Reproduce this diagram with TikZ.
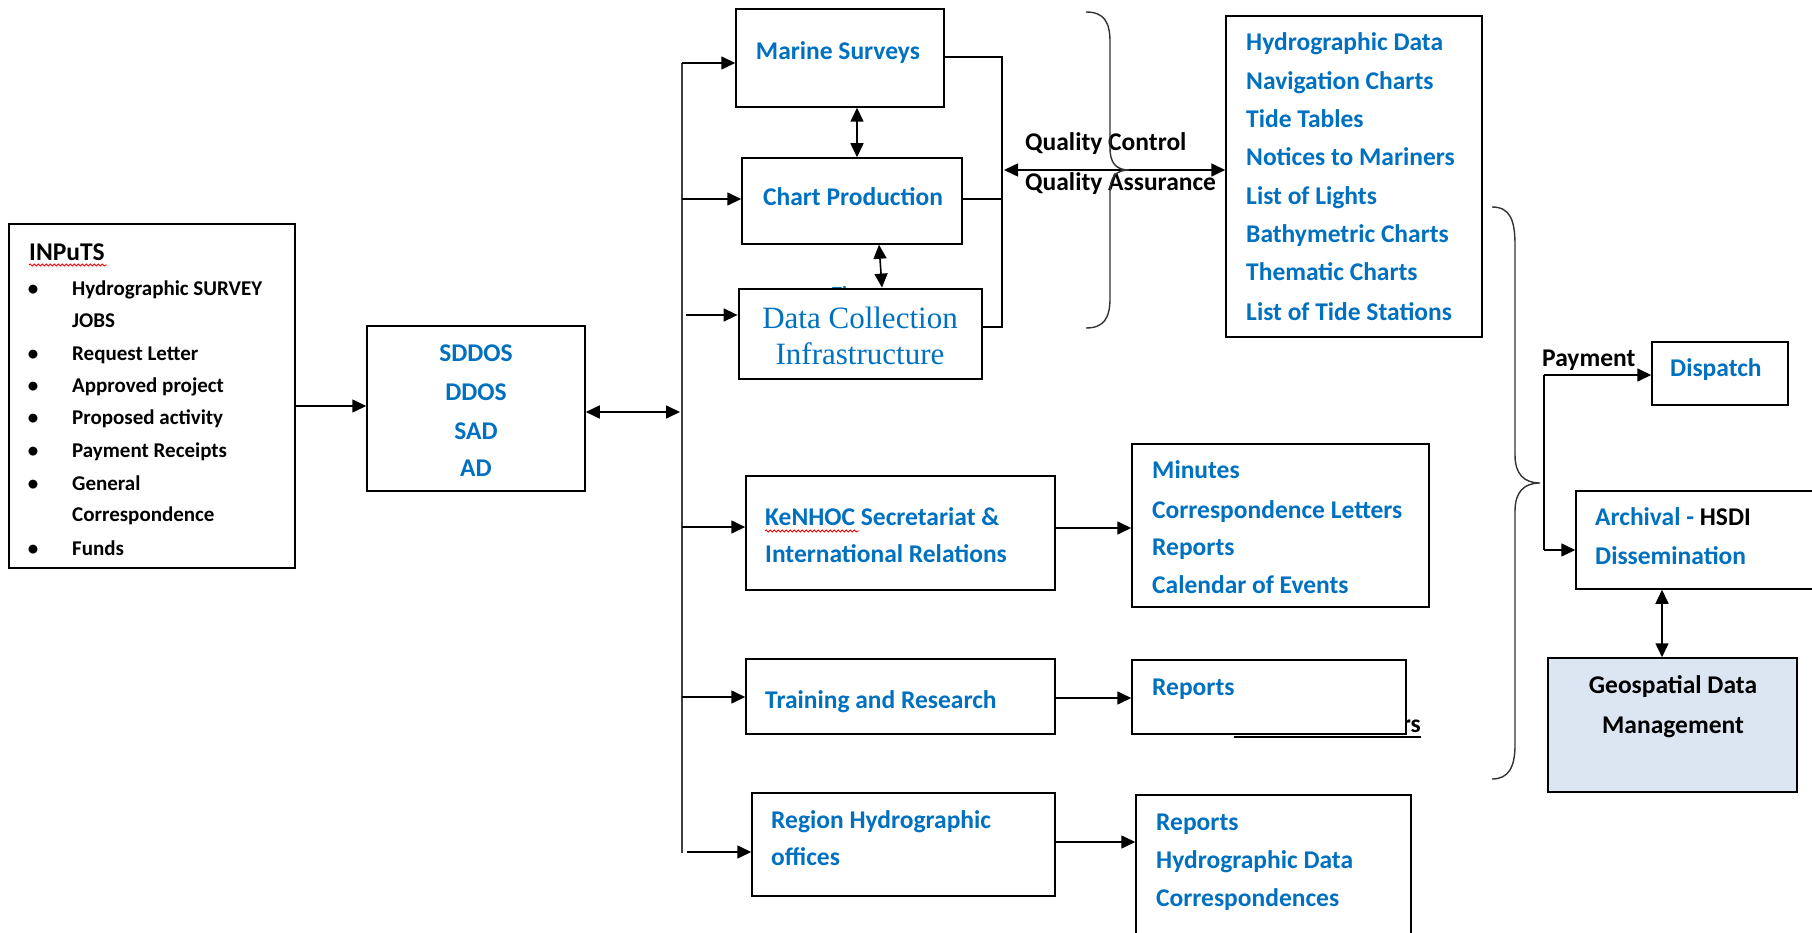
\documentclass[tikz,border=0pt]{standalone}
\usepackage{fontspec}
\setmainfont{Carlito}
\newfontfamily\seriffam{Liberation Serif}
\usetikzlibrary{arrows.meta,decorations.pathmorphing}
\definecolor{tblue}{RGB}{0,112,192}
\definecolor{geofill}{RGB}{220,230,242}
\tikzset{
  box/.style={draw=black, line width=1.5pt, fill=white, inner sep=0pt, rectangle},
  lb/.style={font=\fontsize{25.5}{30}\selectfont\bfseries, text=tblue, inner sep=0pt, anchor=base west},
  lbc/.style={lb, anchor=base},
  blk/.style={lb, text=black},
  inp/.style={font=\fontsize{21}{25}\selectfont\bfseries, inner sep=0pt, anchor=base west},
  ser/.style={font=\fontsize{31}{36}\selectfont\seriffam, text=tblue, inner sep=0pt, anchor=base},
  arr/.style={line width=1.6pt, -{Triangle[length=14pt,width=13pt]}},
  darr/.style={line width=1.6pt, {Triangle[length=14pt,width=13pt]}-{Triangle[length=14pt,width=13pt]}},
  ln/.style={line width=1.6pt},
  brace/.style={line width=1.4pt, draw=black!80},
  wavy/.style={red, line width=0.8pt, decorate, decoration={snake, amplitude=1.1pt, segment length=4pt}},
}
\begin{document}
\begin{tikzpicture}[x=1pt,y=-1pt]
\useasboundingbox (0,0) rectangle (1812,933);
\fill[white] (0,0) rectangle (1812,933);

% ---------------- hidden text fragments (behind boxes)
\node[lb, font=\fontsize{20}{24}\selectfont\bfseries] (frTh) at (832,301) {Th};
\node[blk, anchor=base east] (frRs) at (1421,732) {rs};
\draw[line width=1.4pt] (1234,737) -- (1421,737);

% ---------------- boxes
\node[box, minimum width=286pt, minimum height=344pt] (inp) at (152,396) {};
\node[box, minimum width=218pt, minimum height=165pt] (sd) at (476,408.5) {};
\node[box, minimum width=208pt, minimum height=98pt] (ms) at (840,58) {};
\node[box, minimum width=220pt, minimum height=86pt] (cp) at (852,201) {};
\node[box, line width=2.8pt, minimum width=243pt, minimum height=90pt] (dc) at (860.5,334) {};
\node[box, minimum width=256pt, minimum height=321pt] (hy) at (1354,176.5) {};
\node[box, minimum width=309pt, minimum height=114pt] (ke) at (900.5,533) {};
\node[box, minimum width=297pt, minimum height=163pt] (mi) at (1280.5,525.5) {};
\node[box, minimum width=309pt, minimum height=75pt] (tr) at (900.5,696.5) {};
\node[box, minimum width=274pt, minimum height=74pt] (rp) at (1269,697) {};
\node[box, minimum width=303pt, minimum height=103pt] (rg) at (903.5,844.5) {};
\node[box, minimum width=275pt, minimum height=150pt] (rp2) at (1273.5,870) {};
\node[box, minimum width=136pt, minimum height=63pt] (dp) at (1720,373.5) {};
\node[box, minimum width=246pt, minimum height=98pt] (ar) at (1699,540) {};
\node[box, fill=geofill, minimum width=249pt, minimum height=134pt] (geo) at (1672.5,725) {};

% ---------------- INPUTS text
\node[inp, font=\fontsize{25.5}{30}\selectfont\bfseries] (inT) at (29,261) {INPuTS};
\draw[wavy] (29,265) -- (107,265);
\foreach \t/\y/\b [count=\i] in {Hydrographic SURVEY/296/1, JOBS/327/0, Request Letter/360/1,
  Approved project/392/1, Proposed activity/424/1, Payment Receipts/457/1, General/490/1,
  Correspondence/521/0, Funds/555/1}{
  \node[inp] (inI\i) at (72,\y) {\t};
  \ifnum\b=1 \node[inp, anchor=base] (inB\i) at (33,\y) {•};\fi
}

% ---------------- SDDOS text
\foreach \t/\y [count=\i] in {SDDOS/361, DDOS/400, SAD/439, AD/476}{
  \node[lbc] (sdT\i) at (476,\y) {\t};
}

% ---------------- column boxes text
\node[lbc] (msT) at (838,60) {Marine Surveys};
\node[lbc] (cpT) at (853,206) {Chart Production};
\node[ser] (dcT1) at (860,328) {Data Collection};
\node[ser] (dcT2) at (860,364) {Infrastructure};

\node[lb] (keT1) at (765,525) {KeNHOC Secretariat \&};
\node[lb] (keT2) at (765,562) {International Relations};
\draw[wavy] (765,531) -- (859,531);
\node[lb] (trT) at (765,708) {Training and Research};
\node[lb] (rgT1) at (771,828) {Region Hydrographic};
\node[lb] (rgT2) at (771,865) {offices};

% ---------------- output lists
\foreach \t/\y [count=\i] in {Hydrographic Data/51, Navigation Charts/90, Tide Tables/128,
  Notices to Mariners/166, List of Lights/205, Bathymetric Charts/243, Thematic Charts/281,
  List of Tide Stations/320}{
  \node[lb] (hyT\i) at (1246,\y) {\t};
}
\foreach \t/\y [count=\i] in {Minutes/478, Correspondence Letters/518, Reports/555, Calendar of Events/593}{
  \node[lb] (miT\i) at (1152,\y) {\t};
}
\node[lb] (rpT) at (1152,695) {Reports};
\foreach \t/\y [count=\i] in {Reports/830, Hydrographic Data/868, Correspondences/906}{
  \node[lb] (rp2T\i) at (1156,\y) {\t};
}

% ---------------- right side text
\node[lb] (dpT) at (1670,376) {Dispatch};
\node[lb] (arT1) at (1595,525) {Archival - \textcolor{black}{HSDI}};
\node[lb] (arT2) at (1595,564) {Dissemination};
\node[blk, anchor=base] (geoT1) at (1673,693) {Geospatial Data};
\node[blk, anchor=base] (geoT2) at (1673,733) {Management};
\node[blk] (payT) at (1542,366) {Payment};
\node[blk] (qcT) at (1025,151) {Quality Control};
\node[blk] (qaT) at (1025,191) {Quality Assurance};

% ---------------- connectors
\coordinate (yin) at (0,406);
\draw[arr] (inp.east |- yin) -- (sd.west |- yin);

\coordinate (bS) at (680,412);
\draw[darr] (sd.east |- bS) -- (bS);

\coordinate (bbT) at (682,63);
\coordinate (bbB) at (682,853);
\draw[ln, draw=black!75] (bbT) -- (bbB);
\draw[arr] (bbT) -- (ms.west |- bbT);
\coordinate (b2) at (682,199);
\draw[arr] (b2) -- (cp.west |- b2);
\coordinate (b3) at (686,315);
\draw[arr] (b3) -- (dc.west |- b3);
\coordinate (b4) at (682,527);
\draw[arr] (b4) -- (ke.west |- b4);
\coordinate (b5) at (682,697);
\draw[arr] (b5) -- (tr.west |- b5);
\coordinate (b6) at (687,852);
\draw[arr] (b6) -- (rg.west |- b6);

\coordinate (mcx) at (857,0);
\draw[darr] (ms.south -| mcx) -- (cp.north -| mcx);
\coordinate (cdt) at (879,0);
\coordinate (cdb) at (882,0);
\draw[darr] (cp.south -| cdt) -- (dc.north -| cdb);

\coordinate (qx) at (1002,0);
\coordinate (m57) at (0,57);
\coordinate (dcy) at (0,327);
\coordinate (c199) at (0,199);
\draw[ln] (ms.east |- m57) -| (qx |- dcy) -- (dc.east |- dcy);
\draw[ln] (cp.east |- c199) -- (qx |- c199);

\coordinate (q1) at (1004,170);
\draw[darr] (q1) -- (hy.west |- q1);

\coordinate (k1) at (0,528);
\draw[arr] (ke.east |- k1) -- (mi.west |- k1);
\coordinate (t1) at (0,698);
\draw[arr] (tr.east |- t1) -- (rp.west |- t1);
\coordinate (r1) at (0,842);
\draw[arr] (rg.east |- r1) -- (rp2.west |- r1);

\coordinate (pT) at (1544,375);
\coordinate (pB) at (1544,550);
\draw[ln] (pT) -- (pB);
\draw[arr] (pT) -- (dp.west |- pT);
\draw[arr] (pB) -- (ar.west |- pB);

\coordinate (agx) at (1662,0);
\draw[darr] (ar.south -| agx) -- (geo.north -| agx);

% ---------------- braces
\draw[brace] (1086,12) .. controls (1104,12) and (1110,22) .. (1110,42)
  -- (1110,148) .. controls (1110,163) and (1116,170) .. (1129,170)
  .. controls (1116,170) and (1110,177) .. (1110,192)
  -- (1110,298) .. controls (1110,318) and (1104,328) .. (1086,328);
\draw[brace] (1492,207) .. controls (1510,207) and (1515,220) .. (1515,245)
  -- (1515,455) .. controls (1515,474) and (1524,483) .. (1540,483)
  .. controls (1524,483) and (1515,492) .. (1515,511)
  -- (1515,745) .. controls (1515,768) and (1508,779) .. (1492,779);
\end{tikzpicture}
\end{document}
